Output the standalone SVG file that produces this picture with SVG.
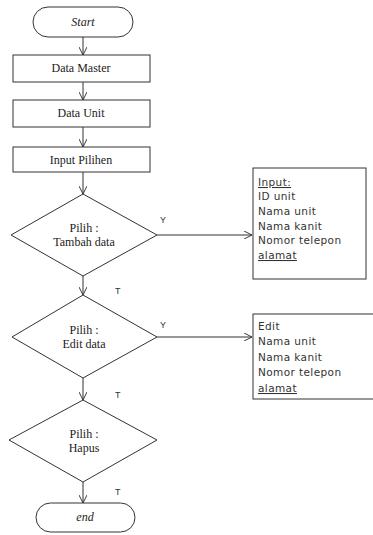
<svg xmlns="http://www.w3.org/2000/svg" width="373" height="535" viewBox="0 0 373 535">
  <style>
    .shape { fill: #ffffff; stroke: #333333; stroke-width: 1; }
    .line { fill: none; stroke: #333333; stroke-width: 1; }
    .serif { font-family: "Liberation Serif", "DejaVu Serif", "Times New Roman", serif; font-size: 12px; fill: #222222; text-anchor: middle; }
    .ital { font-style: italic; }
    .sans { font-family: "DejaVu Sans", "Liberation Sans", sans-serif; font-size: 10.5px; letter-spacing: 0.4px; fill: #333333; }
    .lbl { font-family: "Liberation Sans", Arial, sans-serif; font-size: 9px; fill: #333333; }
    .ul { text-decoration: underline; }
  </style>
  <defs>
    <marker id="arrow" viewBox="0 0 10 10" refX="10" refY="5" markerWidth="8" markerHeight="8" orient="auto" markerUnits="userSpaceOnUse">
      <path d="M0,0 L10,5 L0,10" fill="none" stroke="#333333" stroke-width="1.2"/>
    </marker>
  </defs>
  <rect width="373" height="535" fill="#ffffff"/>

  <g id="connectors">
    <line class="line" x1="83" y1="37" x2="83" y2="55" marker-end="url(#arrow)"/>
    <line class="line" x1="83" y1="82" x2="83" y2="100" marker-end="url(#arrow)"/>
    <line class="line" x1="83" y1="127" x2="83" y2="147" marker-end="url(#arrow)"/>
    <line class="line" x1="83" y1="172" x2="83" y2="194" marker-end="url(#arrow)"/>
    <line class="line" x1="83" y1="276" x2="83" y2="295" marker-end="url(#arrow)"/>
    <line class="line" x1="83" y1="378" x2="83" y2="400" marker-end="url(#arrow)"/>
    <line class="line" x1="83" y1="482" x2="83" y2="503" marker-end="url(#arrow)"/>
    <line class="line" x1="157" y1="235" x2="252" y2="235" marker-end="url(#arrow)"/>
    <line class="line" x1="157" y1="337" x2="252" y2="337" marker-end="url(#arrow)"/>
    <text class="lbl" x="160" y="223">Y</text>
    <text class="lbl" x="160" y="328">Y</text>
    <text class="lbl" x="115" y="294">T</text>
    <text class="lbl" x="115" y="398">T</text>
    <text class="lbl" x="115" y="495">T</text>
  </g>

  <g id="start">
    <rect class="shape" x="33" y="7" width="100" height="30" rx="15" ry="15"/>
    <text class="serif ital" x="83" y="26">Start</text>
  </g>

  <g id="data-master">
    <rect class="shape" x="13" y="55" width="137" height="27"/>
    <text class="serif" x="81" y="72">Data Master</text>
  </g>

  <g id="data-unit">
    <rect class="shape" x="13" y="100" width="137" height="27"/>
    <text class="serif" x="81" y="117">Data Unit</text>
  </g>

  <g id="input-pilihen">
    <rect class="shape" x="13" y="147" width="137" height="25"/>
    <text class="serif" x="81" y="164">Input Pilihen</text>
  </g>

  <g id="pilih-tambah">
    <polygon class="shape" points="83,194 157,235 83,276 11,235"/>
    <text class="serif" x="84" y="232">Pilih :</text>
    <text class="serif" x="84" y="246">Tambah data</text>
  </g>

  <g id="pilih-edit">
    <polygon class="shape" points="83,295 157,337 83,378 12,337"/>
    <text class="serif" x="84" y="334">Pilih :</text>
    <text class="serif" x="84" y="348">Edit data</text>
  </g>

  <g id="pilih-hapus">
    <polygon class="shape" points="83,400 157,440 83,482 9,440"/>
    <text class="serif" x="84" y="438">Pilih :</text>
    <text class="serif" x="84" y="452">Hapus</text>
  </g>

  <g id="end">
    <rect class="shape" x="36" y="503" width="99" height="29" rx="14.5" ry="14.5"/>
    <text class="serif ital" x="85" y="521">end</text>
  </g>

  <g id="input-box">
    <rect class="shape" x="253" y="168" width="113" height="111"/>
    <text class="sans ul" x="258" y="186">Input:</text>
    <text class="sans" x="258" y="200">ID unit</text>
    <text class="sans" x="258" y="215">Nama unit</text>
    <text class="sans" x="258" y="230">Nama kanit</text>
    <text class="sans" x="258" y="244">Nomor telepon</text>
    <text class="sans ul" x="258" y="259">alamat</text>
  </g>

  <g id="edit-box">
    <rect class="shape" x="253" y="314" width="125" height="85"/>
    <text class="sans" x="258" y="330">Edit</text>
    <text class="sans" x="258" y="345">Nama unit</text>
    <text class="sans" x="258" y="361">Nama kanit</text>
    <text class="sans" x="258" y="376">Nomor telepon</text>
    <text class="sans ul" x="258" y="392">alamat</text>
  </g>
</svg>
